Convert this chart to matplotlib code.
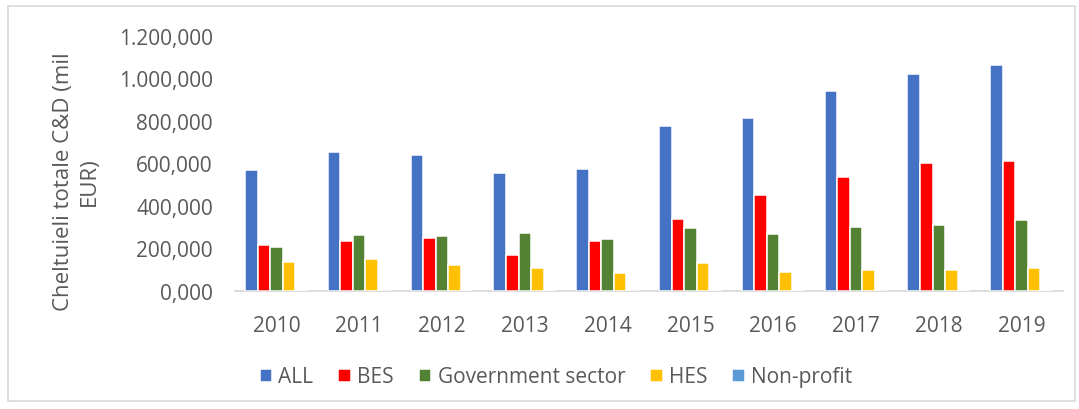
import matplotlib.pyplot as plt
import numpy as np
from matplotlib.patches import Rectangle
from matplotlib.ticker import FuncFormatter

years = ['2010', '2011', '2012', '2013', '2014', '2015', '2016', '2017', '2018', '2019']
all_sec = [568, 654, 642, 554, 573, 778, 814, 941, 1023, 1065]
bes = [216, 234, 248, 168, 235, 341, 450, 535, 604, 614]
gov = [207, 264, 261, 272, 243, 295, 270, 303, 311, 336]
hes = [136, 149, 124, 108, 83, 134, 89, 99, 99, 107]
nonprofit = [1.5, 1.8, 1.6, 1.4, 1.5, 1.7, 1.9, 2.2, 2.0, 2.1]

series = [('ALL', all_sec, '#4472C4'),
          ('BES', bes, '#FF0000'),
          ('Government sector', gov, '#548235'),
          ('HES', hes, '#FFC000'),
          ('Non-profit', nonprofit, '#5B9BD5')]

plt.rcParams['font.family'] = ['Open Sans', 'DejaVu Sans']
txt = '#595959'

fig = plt.figure(figsize=(10.79, 4.10), dpi=100)
ax = fig.add_axes([235 / 1079, 1 - 292 / 410, 828 / 1079, 255 / 410])

x = np.arange(len(years))
w = 0.152
for i, (name, vals, col) in enumerate(series):
    ax.bar(x + (i - 2) * w, vals, width=w, color=col, edgecolor='white',
           linewidth=1.1, label=name, zorder=3)

ax.set_xlim(-0.5, len(years) - 0.5)
ax.set_ylim(0, 1200)
ax.set_yticks(np.arange(0, 1201, 200))
ax.yaxis.set_major_formatter(FuncFormatter(
    lambda v, p: f"{v:,.3f}".replace(',', '#').replace('.', ',').replace('#', '.')))
ax.set_xticks(x)
ax.set_xticklabels(years)
ax.tick_params(axis='both', length=0, labelsize=15, colors=txt)
ax.tick_params(axis='y', pad=16)
ax.tick_params(axis='x', pad=17)
for s in ['top', 'right', 'left']:
    ax.spines[s].set_visible(False)
ax.spines['bottom'].set_color('#d9d9d9')
ax.spines['bottom'].set_linewidth(1.3)

fig.text(76 / 1079, 1 - 182 / 410, 'Cheltuieli totale C&D (mil\nEUR)', rotation=90,
         ha='center', va='center', multialignment='center', fontsize=16,
         color=txt, linespacing=1.3)

leg = fig.legend(loc='center', bbox_to_anchor=(556 / 1079, 1 - 378 / 410), ncol=5,
                 frameon=False, fontsize=15, handlelength=0.6, handleheight=0.6,
                 handletextpad=0.3, columnspacing=1.2)
for t in leg.get_texts():
    t.set_color(txt)

fig.patches.append(Rectangle((8 / 1079, 1 - 402 / 410), 1067 / 1079, 395 / 410,
                             transform=fig.transFigure, fill=False,
                             edgecolor='#d9d9d9', linewidth=1.2))

fig.savefig('out.png', dpi=100)
